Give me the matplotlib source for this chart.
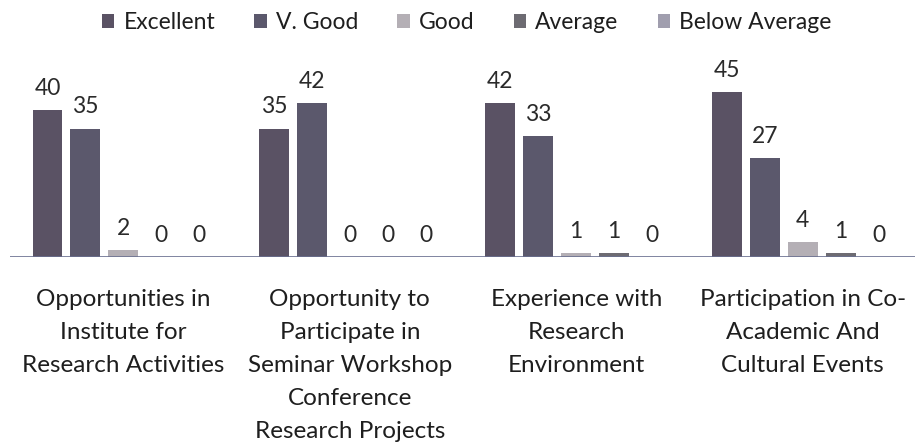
import numpy as np
import matplotlib
matplotlib.use("Agg")
import matplotlib.pyplot as plt

plt.rcParams['font.family'] = ['Lato', 'DejaVu Sans']

categories = ["Opportunities in\nInstitute for\nResearch Activities",
              "Opportunity to\nParticipate in\nSeminar Workshop\nConference\nResearch Projects",
              "Experience with\nResearch\nEnvironment",
              "Participation in Co-\nAcademic And\nCultural Events"]
series = ["Excellent", "V. Good", "Good", "Average", "Below Average"]
excellent = [40, 35, 42, 45]
v_good = [35, 42, 33, 27]
good = [2, 0, 1, 4]
average = [0, 0, 1, 1]
below_avg = [0, 0, 0, 0]
values = [excellent, v_good, good, average, below_avg]
colors = ["#5a5264", "#5b586c", "#b4afb5", "#6d6b72", "#a09eae"]

fig = plt.figure(figsize=(9.15, 4.45), dpi=100)
ax = fig.add_axes([0.011, 0.4225, 0.99, 0.443])

x = np.arange(len(categories))
step, width = 0.1674, 0.132
for i, (name, vals, c) in enumerate(zip(series, values, colors)):
    pos = x + (i - 2) * step
    ax.bar(pos, vals, width=width, color=c, label=name)
    for px, v in zip(pos, vals):
        ax.annotate(str(v), (px, v), xytext=(0, 8), textcoords="offset points",
                    ha="center", va="bottom", fontsize=16.5, color="#2a2a2a")

ax.axhline(0, color="#6a7090", lw=1.2)
ax.set_xlim(-0.5, 3.5)
ax.set_ylim(0, 53.7)
ax.set_xticks(x)
ax.set_xticklabels(categories, fontsize=17.5, linespacing=1.7, color="#1e1e1e")
ax.tick_params(axis="x", length=0, pad=23)
ax.set_yticks([])
for s in ax.spines.values():
    s.set_visible(False)

fig.legend(loc="upper center", bbox_to_anchor=(0.51, 1.02), ncol=5, frameon=False,
           fontsize=16.5, handlelength=0.55, handleheight=0.55, handletextpad=0.4,
           columnspacing=1.7, labelcolor="#1e1e1e")

fig.savefig("out.png", dpi=100)
